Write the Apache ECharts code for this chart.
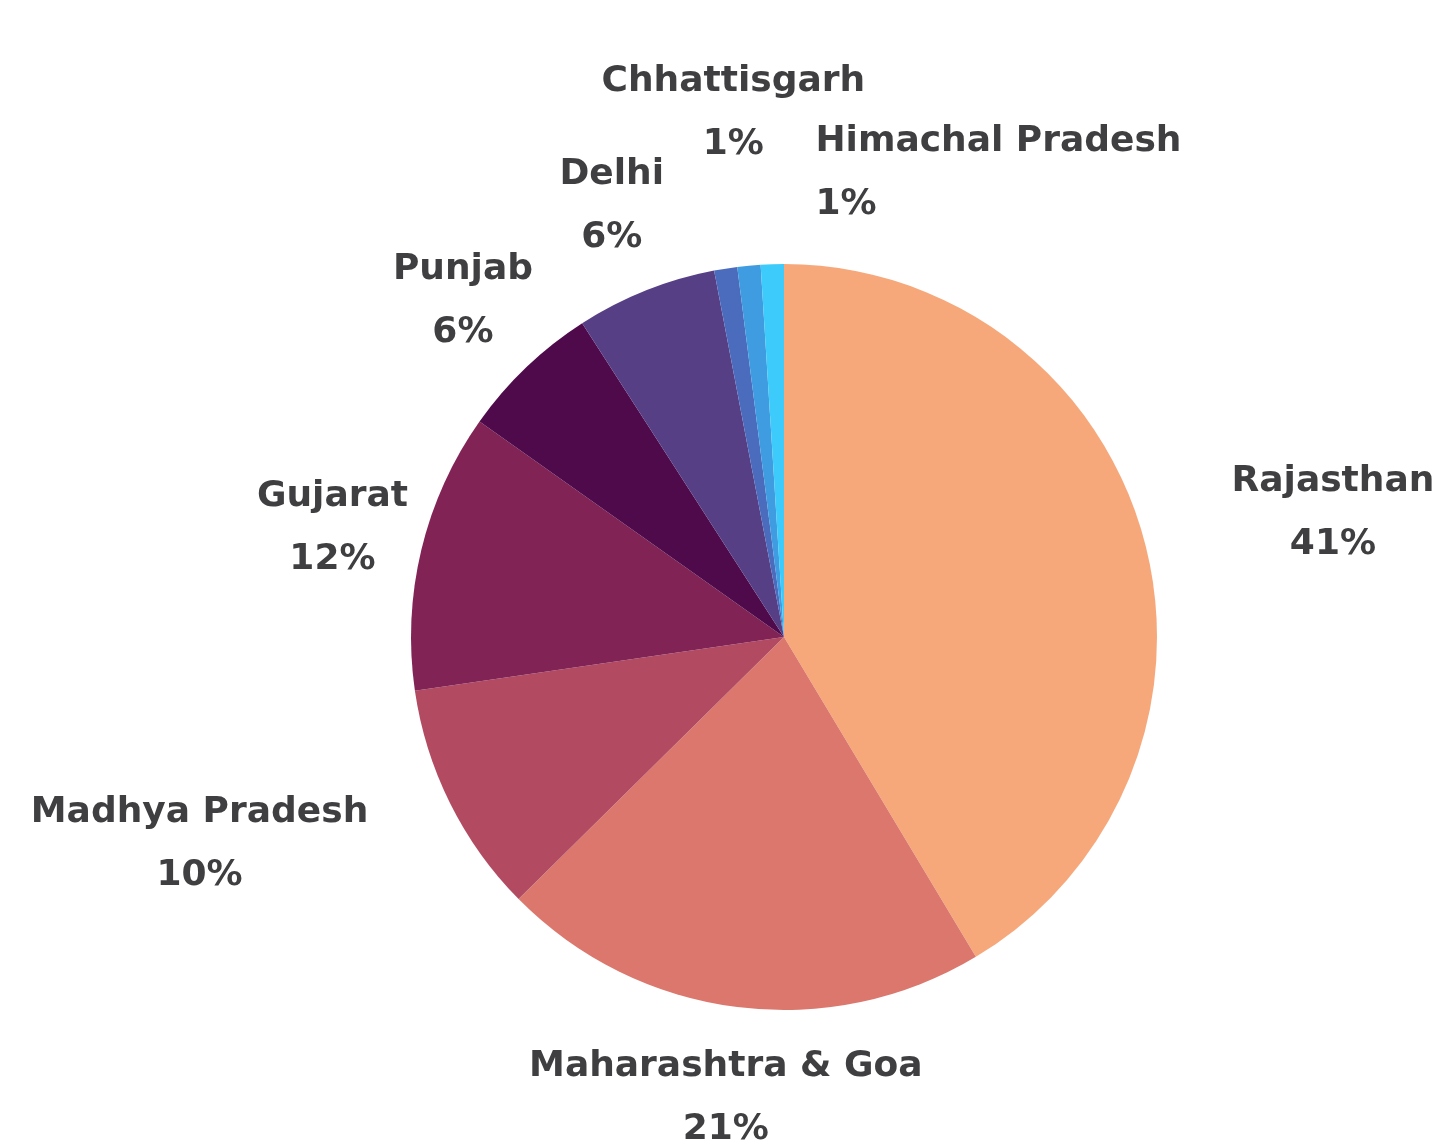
<!DOCTYPE html>
<html><head><meta charset="utf-8">
<script src="https://cdn.jsdelivr.net/npm/echarts@6/dist/echarts.min.js"></script>
<style>html,body{margin:0;padding:0;background:#fff}#c{width:1453px;height:1148px}</style>
</head><body><div id="c"></div>
<script>
// ---- data ----
const states = ['Rajasthan', 'Maharashtra & Goa', 'Madhya Pradesh', 'Gujarat', 'Punjab', 'Delhi', 'Chhattisgarh', 'Unlabelled', 'Himachal Pradesh'];
const shares = [41.4, 21.2, 10.1, 12.1, 6.1, 6.1, 1.0, 1.0, 1.0];
const hiddenLabels = ['Unlabelled'];

// ---- styling / layout ----
const colors = ['#f7a87a', '#dc776d', '#b24b61', '#822356', '#4e0a4a', '#573f86', '#4b6bbd', '#409ce0', '#3dcbfb'];
const CX = 784, CY = 637, R = 373, LABEL_R = R * 1.245;
const labelNudge = {
  'Chhattisgarh': { dx: 22, dy: -65 },
  'Himachal Pradesh': { dx: 46, dy: 0, align: 'left' }
};

const total = shares.reduce((a, b) => a + b, 0);
const midAngles = [];
let acc = 0;
shares.forEach(v => { midAngles.push((acc + v / 2) / total * Math.PI * 2); acc += v; });

const chart = echarts.init(document.getElementById('c'), null, { renderer: 'canvas' });
chart.setOption({
  backgroundColor: '#ffffff',
  animation: false,
  series: [{
    type: 'pie',
    center: [CX, CY],
    radius: [0, R],
    startAngle: 90,
    clockwise: true,
    avoidLabelOverlap: false,
    itemStyle: { borderWidth: 0 },
    label: {
      show: true,
      position: 'outside',
      formatter: p => p.name + '\n' + Math.round(p.percent) + '%',
      fontFamily: 'DejaVu Sans',
      fontWeight: 'bold',
      fontSize: 36,
      lineHeight: 63,
      color: '#3f3f41',
      align: 'center'
    },
    labelLine: { show: false },
    labelLayout: function (p) {
      const i = p.dataIndex;
      const a = midAngles[i];
      const ux = Math.sin(a), uy = -Math.cos(a);
      let x = CX + LABEL_R * ux, y = CY + LABEL_R * uy;
      const w = p.labelRect.width, h = p.labelRect.height;
      const name = states[i];
      // would a centred box overlap the pie?
      const nx = Math.min(Math.max(CX, x - w / 2), x + w / 2);
      const ny = Math.min(Math.max(CY, y - h / 2 + 15), y + h / 2 - 15);
      const d = Math.hypot(nx - CX, ny - CY);
      if (d < R - 5) {
        x = ux > 0 ? x + w / 2 : x - w / 2;
      }
      let align = 'center';
      const n = labelNudge[name];
      if (n) {
        x += n.dx; y += n.dy;
        if (n.align) align = n.align;
      }
      return { x: x, y: y, align: align, verticalAlign: 'middle' };
    },
    data: states.map((s, i) => ({
      name: s,
      value: shares[i],
      itemStyle: { color: colors[i] },
      label: { show: hiddenLabels.indexOf(s) < 0 }
    }))
  }]
});
</script></body></html>
